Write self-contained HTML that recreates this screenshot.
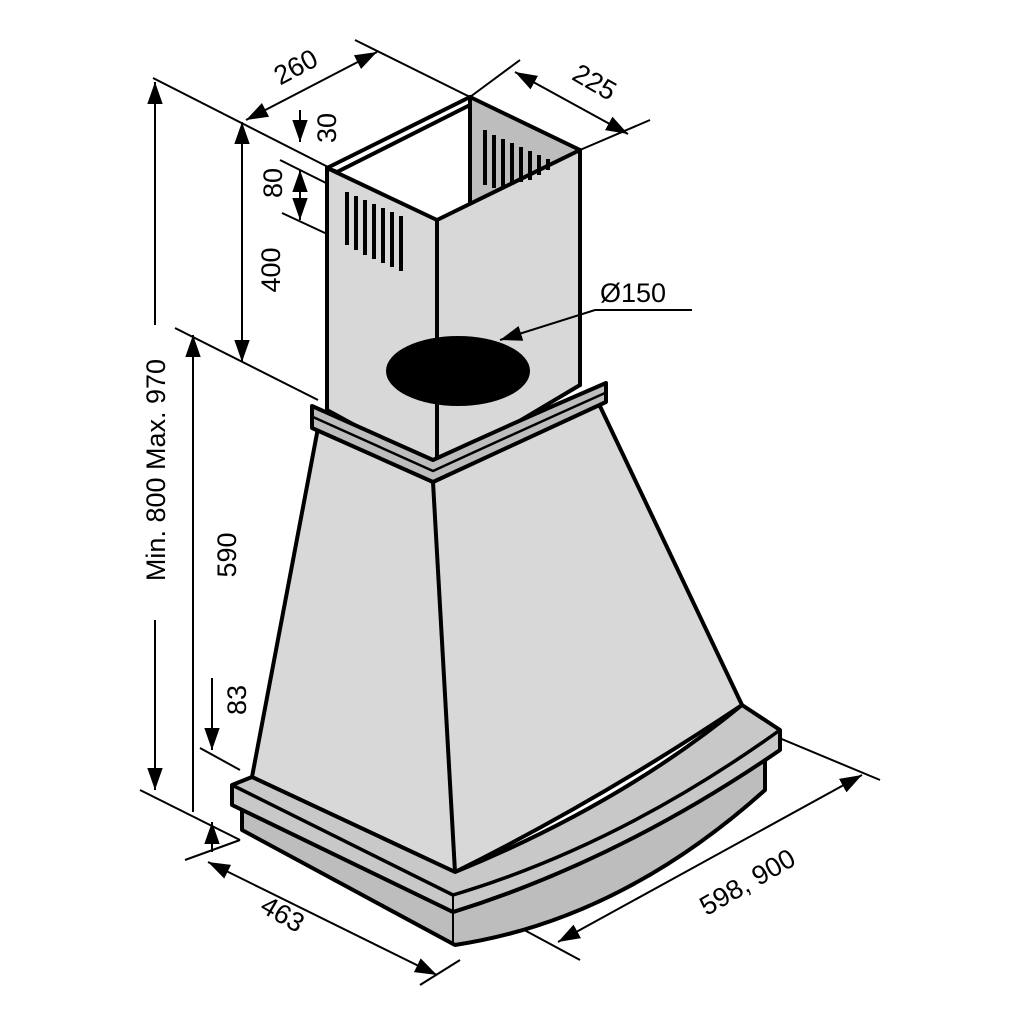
<!DOCTYPE html>
<html><head><meta charset="utf-8"><style>html,body{margin:0;padding:0;background:#fff}svg{display:block}</style></head>
<body>
<svg width="1024" height="1024" viewBox="0 0 1024 1024" xmlns="http://www.w3.org/2000/svg" font-family="Liberation Sans, sans-serif">
<defs>
<marker id="b" viewBox="0 0 10 10" refX="10" refY="5" markerWidth="22" markerHeight="22" orient="auto-start-reverse" markerUnits="userSpaceOnUse"><path d="M0,1.5L10,5L0,8.5z" fill="#000"/></marker>
</defs>
<g stroke="#000" stroke-width="2" fill="none">
<line x1="153" y1="78" x2="330" y2="168"/>
<line x1="175" y1="328" x2="318" y2="400"/>
<line x1="280" y1="160" x2="330" y2="185"/>
<line x1="282" y1="213" x2="340" y2="240"/>
<line x1="355" y1="40" x2="470" y2="97"/>
<line x1="470" y1="97" x2="520" y2="60"/>
<line x1="580" y1="150" x2="650" y2="120"/>
<line x1="140" y1="790" x2="240" y2="840"/>
<line x1="185" y1="860" x2="240" y2="840"/>
<line x1="420" y1="985" x2="460" y2="960"/>
<line x1="760" y1="730" x2="880" y2="780"/>
<line x1="450" y1="900" x2="515" y2="925"/>
<line x1="515" y1="925" x2="580" y2="960"/>
<line x1="200" y1="748" x2="240" y2="770"/>
<line x1="155" y1="82" x2="155" y2="325" marker-start="url(#b)"/>
<line x1="155" y1="620" x2="155" y2="790" marker-end="url(#b)"/>
<line x1="242" y1="122" x2="242" y2="362" marker-start="url(#b)" marker-end="url(#b)"/>
<line x1="300" y1="110" x2="300" y2="142" marker-end="url(#b)"/>
<line x1="300" y1="170" x2="300" y2="195" marker-start="url(#b)"/>
<line x1="300" y1="195" x2="300" y2="220" marker-end="url(#b)"/>
<line x1="193" y1="335" x2="193" y2="812" marker-start="url(#b)"/>
<line x1="212" y1="678" x2="212" y2="750" marker-end="url(#b)"/>
<line x1="212" y1="852" x2="212" y2="822" marker-end="url(#b)"/>
<line x1="246" y1="120" x2="377" y2="52" marker-start="url(#b)" marker-end="url(#b)"/>
<line x1="515" y1="72" x2="628" y2="134" marker-start="url(#b)" marker-end="url(#b)"/>
<line x1="208" y1="862" x2="437" y2="975" marker-start="url(#b)" marker-end="url(#b)"/>
<line x1="558" y1="942" x2="862" y2="775" marker-start="url(#b)" marker-end="url(#b)"/>
</g>
<!-- chimney -->
<g stroke="#000" stroke-width="4" stroke-linejoin="round">
<polygon points="470,97 580,150 580,385 470,330" fill="#bdbdbd"/>
<polygon points="327,168 437,220 437,470 327,410" fill="#d8d8d8"/>
<polygon points="437,220 580,150 580,385 437,470" fill="#d8d8d8"/>
<polygon points="327,168 470,97 470,105 337,172" fill="#fff"/>
<line x1="470" y1="97" x2="470" y2="205" stroke-width="3"/>
</g>
<g stroke="#000" stroke-width="4">
<line x1="485" y1="130" x2="485" y2="185"/><line x1="494" y1="135" x2="494" y2="188"/><line x1="503" y1="139" x2="503" y2="188"/><line x1="512" y1="143" x2="512" y2="185"/><line x1="521" y1="147" x2="521" y2="182"/><line x1="530" y1="151" x2="530" y2="180"/><line x1="539" y1="155" x2="539" y2="175"/><line x1="548" y1="159" x2="548" y2="170"/>
<line x1="347" y1="192" x2="347" y2="245"/><line x1="356" y1="196" x2="356" y2="250"/><line x1="365" y1="200" x2="365" y2="255"/><line x1="374" y1="204" x2="374" y2="259"/><line x1="383" y1="208" x2="383" y2="263"/><line x1="392" y1="212" x2="392" y2="267"/><line x1="401" y1="216" x2="401" y2="271"/>
</g>
<ellipse cx="458" cy="371" rx="72" ry="35" fill="#000"/>
<polyline points="692,310 595,310 500,340" stroke="#000" stroke-width="2" fill="none" marker-end="url(#b)"/>
<!-- hood body -->
<g stroke="#000" stroke-width="4" stroke-linejoin="round">
<path d="M318,428 L433,482 Q520,440 598,402 L742,705 Q600,800 455,872 L252,777 Z" fill="#d8d8d8"/>
<line x1="433" y1="482" x2="455" y2="872"/>
<path d="M312,406 L433,460 Q520,420 606,383 L606,402 Q520,442 433,482 L312,428 Z" fill="#bdbdbd"/>
<path d="M313,417 L433,471 Q520,431 605,393" fill="none" stroke-width="2.5"/>
<path d="M242,805 L242,830 L455,945 Q620,920 765,790 L765,755 Q620,860 453,912 Z" fill="#bdbdbd"/>
<path d="M232,785 L252,777 L455,872 Q620,805 742,705 L780,730 L780,750 Q620,860 453,912 L232,805 Z" fill="#c8c8c8"/>
<path d="M232,785 L453,895 Q620,845 780,730" fill="none" stroke-width="3.5"/>
<line x1="453" y1="895" x2="453" y2="945" stroke-width="2"/>
</g>
<g font-size="27" fill="#000">
<text transform="translate(165,470) rotate(-90)" text-anchor="middle">Min. 800 Max. 970</text>
<text transform="translate(280,270) rotate(-90)" text-anchor="middle">400</text>
<text transform="translate(336,128) rotate(-90)" text-anchor="middle">30</text>
<text transform="translate(282,183) rotate(-90)" text-anchor="middle">80</text>
<text transform="translate(236,555) rotate(-90)" text-anchor="middle">590</text>
<text transform="translate(246,700) rotate(-90)" text-anchor="middle">83</text>
<text transform="translate(300,75) rotate(-28)" text-anchor="middle">260</text>
<text transform="translate(590,90) rotate(30)" text-anchor="middle">225</text>
<text transform="translate(278,922) rotate(30)" text-anchor="middle">463</text>
<text transform="translate(752,890) rotate(-30)" text-anchor="middle">598, 900</text>
<text x="600" y="302">Ø150</text>
</g>
</svg>
</body></html>
